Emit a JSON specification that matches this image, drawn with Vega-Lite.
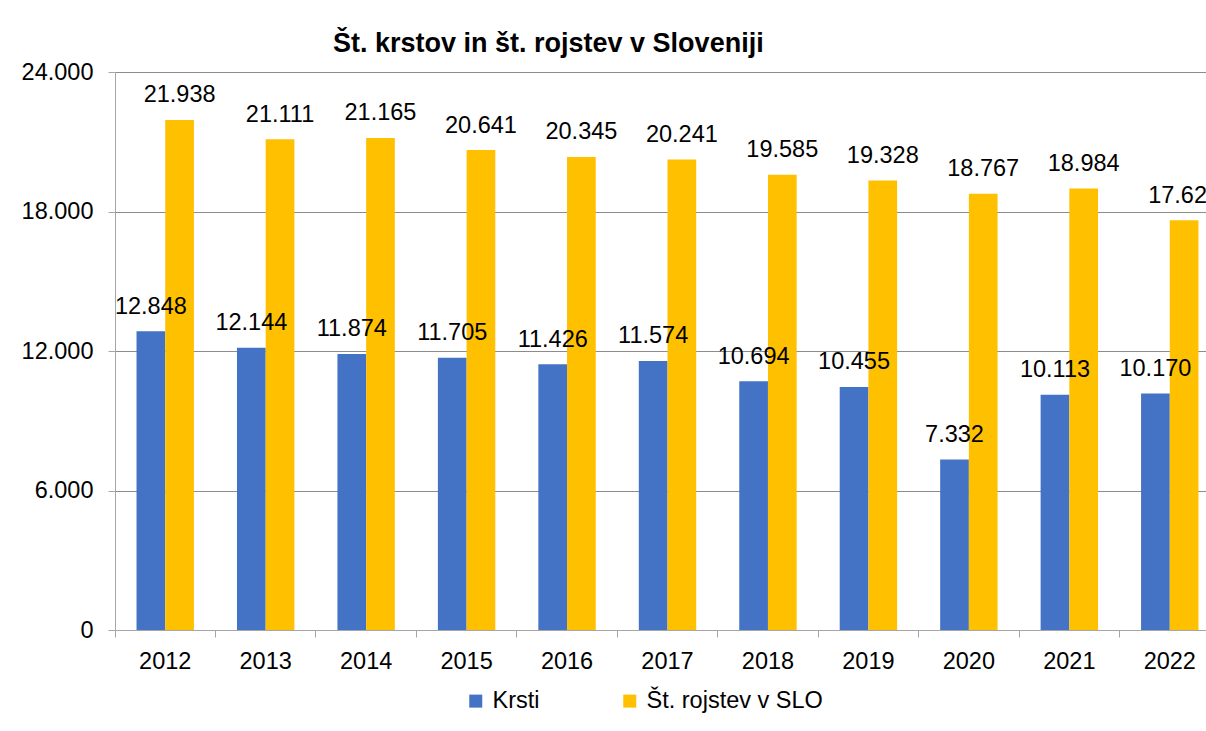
{
  "$schema": "https://vega.github.io/schema/vega-lite/v6.json",
  "autosize": {"type": "none"},
  "padding": {"left": 115, "top": 72, "right": 0, "bottom": 101},
  "width": 1091,
  "height": 558,
  "background": "white",
  "title": {
    "text": "Št. krstov in št. rojstev v Sloveniji",
    "anchor": "start",
    "frame": "group",
    "dx": 218,
    "dy": 43,
    "font": "Liberation Sans",
    "fontSize": 27,
    "fontWeight": "bold",
    "color": "#000000",
    "baseline": "alphabetic",
    "offset": 24
  },
  "data": {
    "values": [
      {"year": "2012", "series": "Krsti", "value": 12848},
      {"year": "2013", "series": "Krsti", "value": 12144},
      {"year": "2014", "series": "Krsti", "value": 11874},
      {"year": "2015", "series": "Krsti", "value": 11705},
      {"year": "2016", "series": "Krsti", "value": 11426},
      {"year": "2017", "series": "Krsti", "value": 11574},
      {"year": "2018", "series": "Krsti", "value": 10694},
      {"year": "2019", "series": "Krsti", "value": 10455},
      {"year": "2020", "series": "Krsti", "value": 7332},
      {"year": "2021", "series": "Krsti", "value": 10113},
      {"year": "2022", "series": "Krsti", "value": 10170},
      {"year": "2012", "series": "Št. rojstev v SLO", "value": 21938},
      {"year": "2013", "series": "Št. rojstev v SLO", "value": 21111},
      {"year": "2014", "series": "Št. rojstev v SLO", "value": 21165},
      {"year": "2015", "series": "Št. rojstev v SLO", "value": 20641},
      {"year": "2016", "series": "Št. rojstev v SLO", "value": 20345},
      {"year": "2017", "series": "Št. rojstev v SLO", "value": 20241},
      {"year": "2018", "series": "Št. rojstev v SLO", "value": 19585},
      {"year": "2019", "series": "Št. rojstev v SLO", "value": 19328},
      {"year": "2020", "series": "Št. rojstev v SLO", "value": 18767},
      {"year": "2021", "series": "Št. rojstev v SLO", "value": 18984},
      {"year": "2022", "series": "Št. rojstev v SLO", "value": 17627}
    ]
  },
  "encoding": {
    "x": {
      "field": "year",
      "type": "nominal",
      "title": null,
      "scale": {"range": [0, 1105], "paddingInner": 0, "paddingOuter": 0},
      "axis": {
        "bandPosition": 0,
        "labelAngle": 0,
        "labelFont": "Liberation Sans",
        "labelFontSize": 23.5,
        "labelColor": "#000000",
        "labelPadding": 12,
        "tickSize": 7,
        "tickColor": "#A6A6A6",
        "domainColor": "#A6A6A6",
        "grid": false
      }
    },
    "xOffset": {
      "field": "series",
      "type": "nominal",
      "sort": ["Krsti", "Št. rojstev v SLO"],
      "scale": {"paddingInner": 0, "paddingOuter": 0.75}
    },
    "y": {
      "field": "value",
      "type": "quantitative",
      "title": null,
      "scale": {"domain": [0, 24000], "nice": false},
      "axis": {
        "values": [0, 6000, 12000, 18000, 24000],
        "format": ",d",
        "labelFont": "Liberation Sans",
        "labelFontSize": 23.5,
        "labelColor": "#000000",
        "labelPadding": 15,
        "tickSize": 7,
        "tickColor": "#A6A6A6",
        "domainColor": "#A6A6A6",
        "gridColor": "#8C8C8C",
        "gridWidth": 1
      }
    }
  },
  "layer": [
    {
      "mark": {"type": "bar"},
      "encoding": {
        "color": {
          "field": "series",
          "type": "nominal",
          "title": null,
          "scale": {"domain": ["Krsti", "Št. rojstev v SLO"], "range": ["#4472C4", "#FFC000"]},
          "legend": {
            "orient": "none",
            "direction": "horizontal",
            "legendX": 349,
            "legendY": 617,
            "symbolType": "square",
            "symbolSize": 169,
            "symbolStrokeWidth": 0,
            "labelFont": "Liberation Sans",
            "labelFontSize": 23.5,
            "labelColor": "#000000",
            "labelOffset": 5,
            "labelLimit": 0,
            "columnPadding": 78,
            "padding": 0
          }
        }
      }
    },
    {
      "mark": {
        "type": "text",
        "baseline": "alphabetic",
        "align": "center",
        "dy": -17.5,
        "font": "Liberation Sans",
        "fontSize": 23.5,
        "color": "#000000"
      },
      "encoding": {
        "text": {"field": "value", "type": "quantitative", "format": ",d"}
      }
    }
  ],
  "config": {
    "view": {"stroke": null},
    "locale": {
      "number": {"decimal": ",", "thousands": ".", "grouping": [3], "currency": ["", " €"]}
    }
  }
}
